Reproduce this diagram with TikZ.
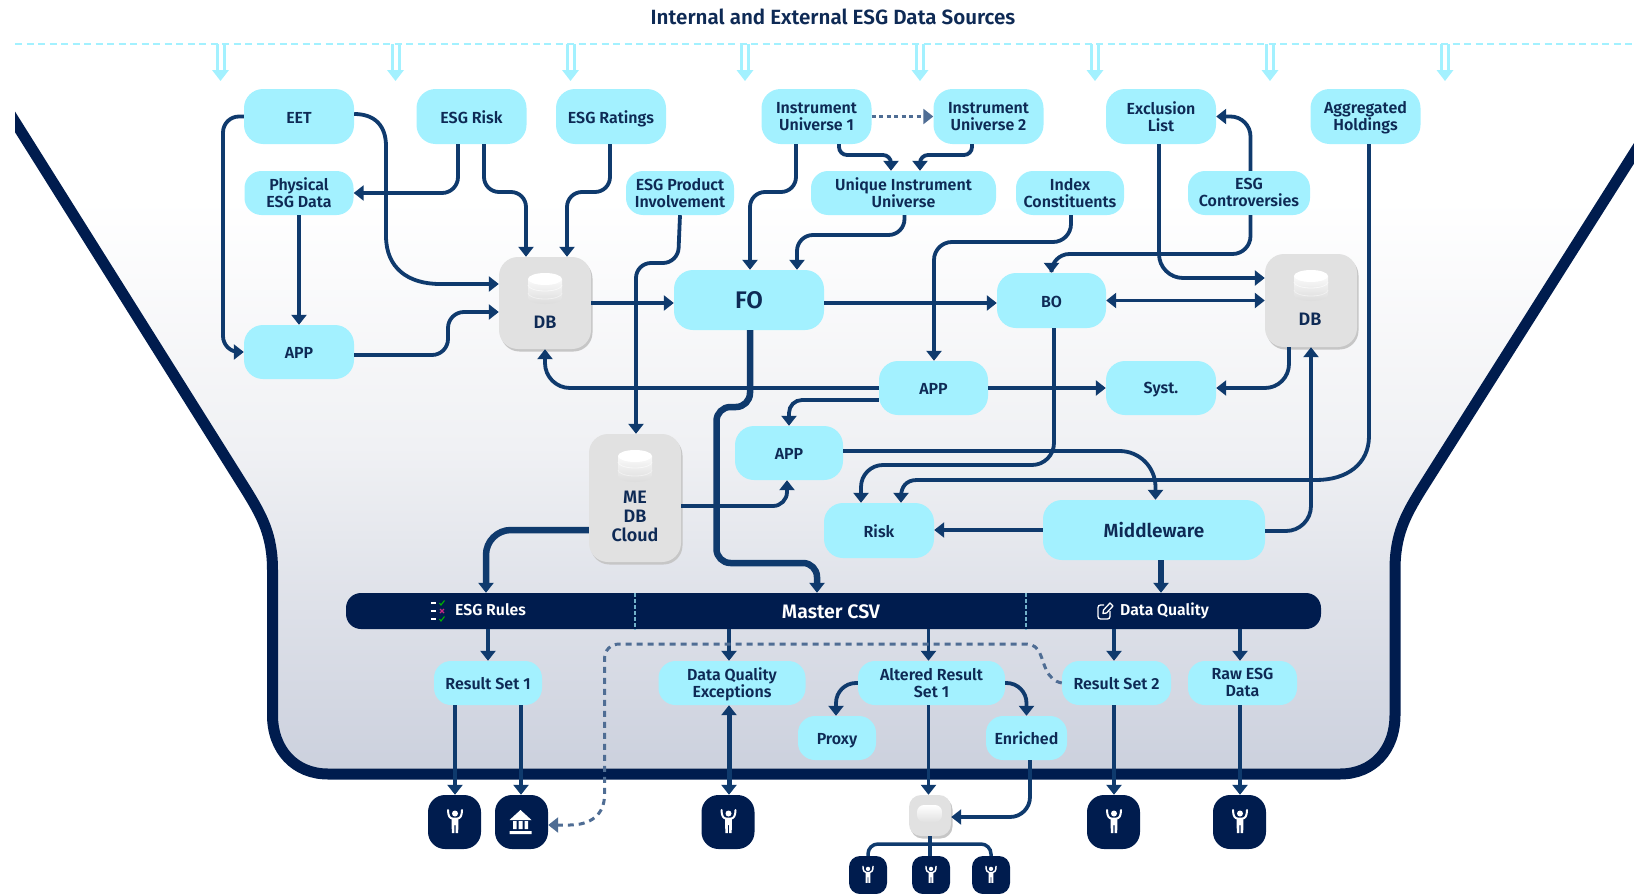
\documentclass[tikz,border=0pt]{standalone}
\usepackage{fontspec}
\setmainfont{Fira Sans}[BoldFont={Fira Sans SemiBold}]
\usetikzlibrary{arrows.meta,shadows,calc}
\definecolor{navy}{HTML}{001C4E}
\definecolor{linecol}{HTML}{0F3A6D}
\definecolor{cyanbox}{HTML}{A3F1FF}
\definecolor{txtcol}{HTML}{0E2A55}
\definecolor{dashcol}{HTML}{4F6D94}
\definecolor{dbgray}{HTML}{E1E1E1}
\definecolor{dbshade}{HTML}{C6C6C6}
\definecolor{funnelbot}{HTML}{CBD0DD}
\definecolor{funnelmid}{HTML}{F0F1F4}
\pgfdeclareverticalshading{funnelshade}{100bp}{color(0bp)=(funnelbot); color(25bp)=(funnelbot); color(49bp)=(funnelmid); color(67bp)=(white); color(100bp)=(white)}
\tikzset{
  tipp/.tip={Triangle[length=10pt,width=15pt]},
  box/.style={fill=cyanbox,rounded corners=19pt,inner sep=0pt,align=center,text=txtcol,
    font=\bfseries\fontsize{16}{17}\selectfont},
  strutted/.style={
    execute at begin node={\lineskiplimit=-20pt\rule[-0.05em]{0pt}{0.95em}},
    execute at end node={\rule[-0.05em]{0pt}{0.95em}}},
  rowa/.style={box,strutted,minimum width=110pt,minimum height=55pt},
  rowb/.style={box,strutted,minimum width=109pt,minimum height=44pt,rounded corners=17pt},
  dbbox/.style={fill=dbgray,rounded corners=19pt,inner sep=0pt,
    general shadow={shadow xshift=1.5pt,shadow yshift=-2.5pt,fill=dbshade}},
  dbtext/.style={text=txtcol,align=center,inner sep=0pt,font=\bfseries\fontsize{18}{19}\selectfont},
  iconbox/.style={fill=navy,rounded corners=17pt,inner sep=0pt,minimum width=53pt,minimum height=54pt},
  smallicon/.style={fill=navy,rounded corners=11pt,inner sep=0pt,minimum width=38pt,minimum height=38pt},
  conn/.style={draw=linecol,line width=3.8pt,-tipp},
  heavy/.style={draw=linecol,line width=6.5pt,-tipp},
  plainconn/.style={draw=linecol,line width=3.5pt},
  dashconn/.style={draw=dashcol,line width=3pt,dash pattern=on 6pt off 5pt,-tipp},
  srcstem/.style={draw=cyanbox,line width=3pt},
  bartext/.style={text=white,inner sep=0pt,font=\bfseries\fontsize{15.8}{17}\selectfont},
}
\newcommand\dbicon[3]{% cx, top y, bottom y
  \shade[top color=white!85!dbgray,bottom color=black!2!dbgray]
    (#1-17,#3-6) arc[start angle=180,end angle=360,x radius=17pt,y radius=6pt]
    -- (#1+17,#2+6) -- (#1-17,#2+6) -- cycle;
  \draw[white!55!dbgray,line width=0.8pt] (#1-17,#2+20) arc[start angle=180,end angle=360,x radius=17pt,y radius=6pt];
  \draw[white!75!dbgray,line width=0.8pt] (#1-17,#2+12) arc[start angle=180,end angle=360,x radius=17pt,y radius=6pt];
  \fill[white] (#1,#2+6) ellipse[x radius=17pt,y radius=6pt];
}
\newcommand\personicon[3]{% cx, cy, scale
  \begin{scope}[shift={(#1,#2)},scale=#3]
    \fill[white] (0,-8.5) circle[radius=3pt];
    \draw[white,line width=2pt*#3,line cap=round] (-7,-12) .. controls (-7,-6) and (-5,-3.5) .. (-2.5,-3.5) -- (2.5,-3.5) .. controls (5,-3.5) and (7,-6) .. (7,-12);
    \fill[white] (-3.4,-4) -- (3.4,-4) -- (3.2,11) -- (0.6,11) -- (0.6,3) -- (-0.6,3) -- (-0.6,11) -- (-3.2,11) -- cycle;
  \end{scope}
}
\begin{document}
\begin{tikzpicture}[x=1pt,y=-1pt]
\useasboundingbox (0,0) rectangle (1634,894);
% funnel
\begin{scope}
\clip (15,0) rectangle (1634,894);
\shade[shading=funnelshade]
  (-5,90) -- (246,490) .. controls (262,516) and (272.5,535) .. (272.5,570)
  -- (272.5,715) .. controls (272.5,750) and (295,774) .. (328,774)
  -- (1340,774) .. controls (1373,774) and (1395,750) .. (1395,715)
  -- (1395,570) .. controls (1395,535) and (1405,516) .. (1421,490)
  -- (1650,128) -- cycle;
\draw[navy,line width=11pt]
  (-5,90) -- (246,490) .. controls (262,516) and (272.5,535) .. (272.5,570)
  -- (272.5,715) .. controls (272.5,750) and (295,774) .. (328,774)
  -- (1340,774) .. controls (1373,774) and (1395,750) .. (1395,715)
  -- (1395,570) .. controls (1395,535) and (1405,516) .. (1421,490)
  -- (1650,128);
\end{scope}
% title and sources
\node[text=txtcol,inner sep=0pt,font=\bfseries\fontsize{20.6}{22}\selectfont] (title) at (833,17) {Internal and External ESG Data Sources};
\coordinate (srcl) at (15,44);
\coordinate (srcr) at (1634,44);
\draw[cyanbox,line width=2.5pt,dash pattern=on 7pt off 4.5pt] (srcl) -- (srcr);
\foreach \x in {220.5,395.5,570.5,745,920,1095,1270,1445}{
  \draw[srcstem] (\x-3.5,44) -- (\x-3.5,72);
  \draw[srcstem] (\x+3.5,44) -- (\x+3.5,72);
  \fill[cyanbox] (\x-8.5,70) -- (\x+8.5,70) -- (\x,81) -- cycle;
}
% top row
\node[rowa] (eet) at (299,116.5) {EET};
\node[rowa] (esgrisk) at (471.5,116.5) {ESG Risk};
\node[rowa] (ratings) at (611,116.5) {ESG Ratin\smash{g}s};
\node[rowa] (iua) at (816.5,116.5) {Instrument\\Universe 1};
\node[rowa] (iub) at (988.5,116.5) {Instrument\\Universe 2};
\node[rowa] (excl) at (1161,116.5) {Exclusion\\List};
\node[rowa] (aggr) at (1365.5,116.5) {Aggregated\\Holdin\smash{g}s};
% second row
\node[rowb] (phys) at (299,193) {Physical\\ESG Data};
\node[rowb,minimum width=108pt] (prod) at (680,193) {ESG Product\\Involvement};
\node[rowb,minimum width=185pt] (unique) at (903.5,193) {Unique Instrument\\Universe};
\node[rowb,minimum width=108pt] (index) at (1070,193) {Index\\Constituents};
\node[rowb,minimum width=122pt] (contro) at (1249,193) {ESG\\Controversies};
% databases
\node[dbbox,minimum width=92pt,minimum height=92pt] (dba) at (545,303) {};
\dbicon{545}{273}{304}
\node[dbtext] (dbatext) at (545,322) {DB};
\node[dbbox,minimum width=92pt,minimum height=93pt] (dbb) at (1311,300.5) {};
\dbicon{1311}{270}{301}
\node[dbtext] (dbbtext) at (1310,319.5) {DB};
\node[dbbox,minimum width=92pt,minimum height=128pt] (medb) at (635,498) {};
\dbicon{635}{450}{482}
\node[dbtext] (medbtext) at (635,516) {ME\\DB\\Cloud};
% middle
\node[box,minimum width=150pt,minimum height=60pt,font=\bfseries\fontsize{24}{26}\selectfont] (fo) at (749,300) {FO};
\node[rowa,minimum width=109pt] (bo) at (1051.5,300.5) {BO};
\node[rowa,minimum height=54pt] (appa) at (299,352) {APP};
\node[rowa,minimum width=109pt,minimum height=54pt] (appb) at (933.5,388) {APP};
\node[rowa,minimum height=54pt] (syst) at (1161,388) {Syst.};
\node[rowa,minimum width=108pt,minimum height=54pt] (appc) at (789,453) {APP};
\node[rowa] (risk) at (879,530.5) {Risk};
\node[box,minimum width=222pt,minimum height=60pt,font=\bfseries\fontsize{19}{21}\selectfont] (mw) at (1154,530) {Middleware};
% bar
\node[fill=navy,rounded corners=15pt,minimum width=975pt,minimum height=36pt,inner sep=0pt] (bar) at (833.5,611) {};
\coordinate (diva) at (635,593);\coordinate (divb) at (1026,593);
\draw[cyanbox!70!navy,line width=1.2pt,dash pattern=on 3.5pt off 2.5pt] (diva) -- (diva |- bar.south);
\draw[cyanbox!70!navy,line width=1.2pt,dash pattern=on 3.5pt off 2.5pt] (divb) -- (divb |- bar.south);
\node[bartext] (rulest) at (490.5,610) {ESG Rules};
\node[bartext,font=\bfseries\fontsize{19.5}{21}\selectfont] (csvt) at (831,612) {Master CSV};
\node[bartext] (dqt) at (1164.5,610.5) {Data Quality};
% checklist icon
\draw[white,line width=1.2pt] (431,603) -- (436,603) (431,611) -- (436,611) (431,619) -- (436,619);
\draw[green!70!black,line width=1.1pt] (439.5,603) -- (441,605) -- (444.5,600.5);
\draw[magenta!80!black,line width=1.1pt] (440,609) -- (444,613) (444,609) -- (440,613);
\draw[green!70!black,line width=1.1pt] (439.5,619) -- (441,621) -- (444.5,616.5);
% data quality icon
\draw[white,line width=1.3pt,rounded corners=2.5pt] (1104,605) -- (1098,605) -- (1098,619) -- (1110,619) -- (1110,611);
\draw[white,line width=1.3pt,line join=round] (1103,613.5) -- (1103.5,610) -- (1110,603) -- (1113,606) -- (1106.5,613) -- cycle;
% lower boxes
\node[rowb,minimum width=108pt] (rsa) at (488,683) {Result Set 1};
\node[rowb,minimum width=147pt] (dqe) at (732,683) {Data Quality\\Exce\smash{p}tions};
\node[rowb,minimum width=147pt] (alt) at (931.5,683) {Altered Result\\Set 1};
\node[rowb] (rsb) at (1116.5,683) {Result Set 2};
\node[rowb] (raw) at (1242.5,683) {Raw ESG\\Data};
\node[rowb,minimum width=78pt] (proxy) at (837,738) {Prox\smash{y}};
\node[rowb,minimum width=81pt] (enr) at (1026.5,738) {Enriched};
% icons
\node[iconbox] (pa) at (454.5,822) {};
\node[iconbox] (bank) at (521.5,822) {};
\node[iconbox] (pc) at (728,822) {};
\node[iconbox] (pd) at (1113.5,822) {};
\node[iconbox] (pe) at (1239.5,822) {};
\personicon{455}{822}{1}
\personicon{728.5}{822}{1}
\personicon{1114}{822}{1}
\personicon{1240}{822}{1}
\begin{scope}[shift={(520.5,822)}]
  \fill[white] (-11,-2) -- (0,-12) -- (11,-2) -- cycle;
  \fill[white] (-7.5,-1) rectangle (-4,7) (-2,-1) rectangle (2,7) (4,-1) rectangle (7.5,7) (-11,9) rectangle (11,12);
\end{scope}
\node[dbbox,minimum width=42pt,minimum height=41pt,rounded corners=12pt] (sdb) at (930,815.5) {};
\shade[top color=white,bottom color=dbgray,rounded corners=7pt] (917,805) rectangle (942,822);
\node[smallicon] (sa) at (868,875) {};
\node[smallicon] (sb) at (931,875) {};
\node[smallicon] (sc) at (991,875) {};
\personicon{868}{875}{0.72}
\personicon{931}{875}{0.72}
\personicon{991}{875}{0.72}
% connectors
\draw[conn,rounded corners=16pt] (eet.west) -- (223,116.5) -- (223,352) -- (appa.west);
\draw[conn] ([yshift=2.5pt]eet.east) .. controls (375,114) and (386,126) .. (386,146) -- (386,236) .. controls (386,268) and (408,284) .. (440,284) -- ([yshift=19pt]dba.west);
\draw[conn,rounded corners=16pt] ([xshift=-13.5pt]esgrisk.south) -- (458,193) -- (phys.east);
\draw[conn,rounded corners=15pt] ([xshift=12.5pt]esgrisk.south) -- (484,192) -- (526,192) -- ([xshift=-19pt]dba.north);
\draw[conn,rounded corners=15pt] ([xshift=-1pt]ratings.south) -- (610,192) -- (567,192) -- ([xshift=22pt]dba.north);
\draw[conn] (phys.south) -- (appa.north);
\draw[conn,rounded corners=16pt] ([yshift=-3pt]appa.east) -- (448,355) -- (448,312) -- ([yshift=-9pt]dba.west);
\draw[conn] (dba.east) -- (dba.east -| fo.west);
\draw[conn,rounded corners=15pt] (prod.south) -- (678,263) -- (636,263) -- ([xshift=1pt]medb.north);
\draw[conn,rounded corners=15pt] ([xshift=-20.5pt]iua.south) -- (796,192) -- (750,192) -- ([xshift=1pt]fo.north);
\draw[conn,rounded corners=8pt] ([xshift=22.5pt]iua.south) -- (839,155) -- (891,155) -- ([xshift=-12.5pt]unique.north);
\draw[conn,rounded corners=8pt] ([xshift=-16.5pt]iub.south) -- (972,155) -- (920,155) -- ([xshift=16.5pt]unique.north);
\draw[dashconn,dash pattern=on 4pt off 3.5pt] (iua.east) -- (iub.west);
\draw[conn,rounded corners=16pt] ([xshift=1pt]unique.south) -- (904.5,235) -- (797,235) -- ([xshift=48pt]fo.north);
\draw[conn,rounded corners=18pt] ([xshift=1pt]index.south) -- (1071,242) -- (934,242) -- ([xshift=0.5pt]appb.north);
\draw[conn,rounded corners=20pt] ([xshift=1.5pt]contro.north) -- (1250.5,116.5) -- (excl.east);
\draw[conn,rounded corners=18pt] ([xshift=1.5pt]contro.south) -- (1250.5,254) -- (1051.5,254) -- (bo.north);
\draw[conn,rounded corners=24pt] ([xshift=-2pt]excl.south) -- (1159,278) -- ([yshift=22.5pt]dbb.west);
\draw[conn] ([yshift=-3pt]fo.east) -- ([yshift=-2.5pt]bo.west);
\draw[tipp-tipp,draw=linecol,line width=3.8pt] (bo.east) -- (dbb.west);
\draw[conn,rounded corners=25pt] (appb.west) -- (545,388) -- (dba.south);
\draw[conn] (appb.east) -- (syst.west);
\draw[conn,rounded corners=24pt] ([xshift=-22pt]dbb.south) -- (1289,388) -- (syst.east);
\draw[conn,rounded corners=13pt] ([yshift=-12pt]appb.west) -- (789,400) -- (appc.north);
\draw[heavy,rounded corners=14pt] ([xshift=1pt]fo.south) -- (750,407) -- (716.5,407) -- (716.5,563) -- (817,563) -- ([xshift=-16.5pt]bar.north);
\draw[conn,rounded corners=22pt] ([xshift=2.5pt]bo.south) -- (1054,465) -- (861,465) -- ([xshift=-18pt]risk.north);
\draw[conn,rounded corners=36pt] ([yshift=2pt]appc.east) -- (1155.5,451) -- ([xshift=1.5pt]mw.north);
\draw[conn] ([xshift=3.5pt]aggr.south) -- (1369,436) .. controls (1369,464) and (1347,480) .. (1316,480) -- (917,480) .. controls (906,480) and (901,487) .. (901,497) -- ([xshift=22pt]risk.north);
\draw[conn,rounded corners=25pt] ([yshift=-1pt]mw.east) -- (1311,531) -- (dbb.south);
\draw[conn] (mw.west) -- (mw.west -| risk.east);
\draw[heavy] ([xshift=7pt]mw.south) -- ([xshift=7pt]mw.south |- bar.north);
\draw[conn,rounded corners=14pt] ([yshift=-8pt]medb.east) -- (787,506) -- ([xshift=-2pt]appc.south);
\draw[heavy,rounded corners=25pt] ([yshift=-32pt]medb.west) -- (486,530) -- ([xshift=-347.5pt]bar.north);
\draw[conn] (rsa.north |- bar.south) -- (rsa.north);
\draw[conn] ([xshift=-3pt]dqe.north |- bar.south) -- ([xshift=-3pt]dqe.north);
\draw[conn] ([xshift=-3pt]alt.north |- bar.south) -- ([xshift=-3pt]alt.north);
\draw[conn] ([xshift=-2.5pt]rsb.north |- bar.south) -- ([xshift=-2.5pt]rsb.north);
\draw[conn] ([xshift=-2.5pt]raw.north |- bar.south) -- ([xshift=-2.5pt]raw.north);
\draw[conn] ([xshift=-33pt]rsa.south) -- ([xshift=-33pt]rsa.south |- pa.north);
\draw[conn] ([xshift=33pt]rsa.south) -- ([xshift=33pt]rsa.south |- bank.north);
\draw[tipp-tipp,draw=linecol,line width=5pt] ([xshift=-3pt]dqe.south) -- ([xshift=-3pt]dqe.south |- pc.north);
\draw[conn,rounded corners=20pt] (alt.west) -- (836,683) -- ([xshift=-1pt]proxy.north);
\draw[conn,rounded corners=20pt] (alt.east) -- (1026.5,683) -- (enr.north);
\draw[conn] ([xshift=-3pt]alt.south) -- ([xshift=-3pt]alt.south |- sdb.north);
\draw[conn,rounded corners=20pt] ([xshift=3.5pt]enr.south) -- (1030,817) -- ([yshift=-1.5pt]sdb.east);
\draw[conn] ([xshift=-2.5pt]rsb.south) -- ([xshift=-2.5pt]rsb.south |- pd.north);
\draw[conn] ([xshift=-2.5pt]raw.south) -- ([xshift=-2.5pt]raw.south |- pe.north);
\draw[plainconn] (sdb.south) -- (sb.north -| sdb.south);
\draw[plainconn,rounded corners=10pt] (sa.north) -- (868,844) -- (991,844) -- (sc.north);
\draw[dashconn] (rsb.west) .. controls (1046,680) and (1044,662) .. (1041,656) .. controls (1038,648) and (1034,644) .. (1026,644) -- (620,644) .. controls (610,644) and (604.5,650) .. (604.5,660) -- (604.5,795) .. controls (604.5,815) and (590,825) .. (570,825) -- ([yshift=-3pt]bank.east);
\end{tikzpicture}
\end{document}
